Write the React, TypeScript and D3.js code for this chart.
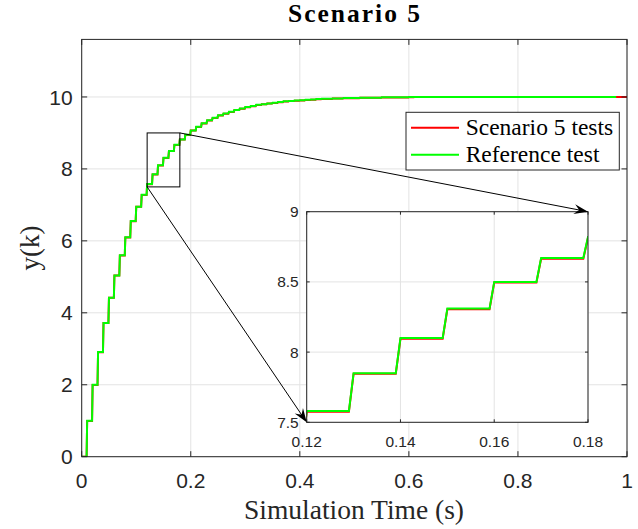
import * as d3 from "d3";

// step response, one level per 0.01 s sample
const samplePeriod = 0.01;
const rampTime = 0.001;

const referenceLevels = [
  0, 1.0, 2.0, 2.91, 3.72, 4.42, 5.04, 5.6, 6.1, 6.55, 6.95, 7.28, 7.58, 7.85,
  8.1, 8.31, 8.5, 8.67, 8.82, 8.95, 9.07, 9.17, 9.27, 9.35, 9.42, 9.49, 9.54,
  9.59, 9.64, 9.68, 9.72, 9.75, 9.78, 9.8, 9.82, 9.84, 9.86, 9.88, 9.89, 9.9,
  9.91, 9.92, 9.93, 9.94, 9.95, 9.95, 9.96, 9.96, 9.97, 9.97, 9.97, 9.98, 9.98,
  9.98, 9.98, 9.99, 9.99, 9.99, 9.99, 9.99, 10.0,
];
const referenceEnd = 0.98;

const scenarioLevels = [
  0, 0.995, 1.995, 2.905, 3.715, 4.415, 5.035, 5.595, 6.095, 6.545, 6.945,
  7.275, 7.575, 7.845, 8.095, 8.305, 8.495, 8.665, 8.815, 8.945, 9.065, 9.165,
  9.265, 9.345, 9.415, 9.485, 9.535, 9.585, 9.635, 9.675, 9.715, 9.745, 9.775,
  9.795, 9.815, 9.835, 9.855, 9.875, 9.885, 9.895, 9.905, 9.915, 9.925, 9.935,
  9.945, 9.945, 9.955, 9.955, 9.965, 9.965, 9.965, 9.975, 9.975, 9.975, 9.975,
  9.985, 9.985, 9.985, 9.985, 9.985, 9.995, 10.0,
];
const scenarioEnd = 1.0;

const mainXTicks = [0, 0.2, 0.4, 0.6, 0.8, 1];
const mainYTicks = [0, 2, 4, 6, 8, 10];
const insetXTicks = [0.12, 0.14, 0.16, 0.18];
const insetYTicks = [7.5, 8, 8.5, 9];

const seriesNames = ["Scenario 5 tests", "Reference test"];
const seriesColors = ["#ff0000", "#00ff00"];

type Pt = [number, number];

function toPoints(levels: number[], tEnd: number): Pt[] {
  const pts: Pt[] = [[0, levels[0]]];
  for (let k = 1; k < levels.length; k++) {
    const t = k * samplePeriod;
    pts.push([t - rampTime, levels[k - 1]]);
    pts.push([t, levels[k]]);
  }
  pts.push([tEnd, levels[levels.length - 1]]);
  return pts;
}

const axisColor = "#262626";
const gridColor = "#e3e3e3";
const sans = "'Liberation Sans', Arial, sans-serif";
const serif = "'Liberation Serif', 'Times New Roman', serif";

function Axes({ x, y, xTicks, yTicks, tickLen, fontSize, xLabelDy, yLabelDx, id, series }) {
  const [x0, x1] = x.range();
  const [y0, y1] = y.range();
  const line = d3
    .line<Pt>()
    .x((d) => x(d[0]))
    .y((d) => y(d[1]));
  return (
    <g>
      <rect x={x0} y={y1} width={x1 - x0} height={y0 - y1} fill="#fff" />
      <clipPath id={id}>
        <rect x={x0} y={y1} width={x1 - x0} height={y0 - y1} />
      </clipPath>
      {xTicks.map((t) => (
        <line key={"gx" + t} x1={x(t)} x2={x(t)} y1={y0} y2={y1} stroke={gridColor} />
      ))}
      {yTicks.map((t) => (
        <line key={"gy" + t} x1={x0} x2={x1} y1={y(t)} y2={y(t)} stroke={gridColor} />
      ))}
      <g clipPath={`url(#${id})`}>
        {series.map((s, i) => (
          <path key={i} d={line(s.points)} fill="none" stroke={s.color} strokeWidth={2} />
        ))}
      </g>
      {xTicks.map((t) => (
        <g key={"tx" + t}>
          <line x1={x(t)} x2={x(t)} y1={y0} y2={y0 - tickLen} stroke={axisColor} />
          <line x1={x(t)} x2={x(t)} y1={y1} y2={y1 + tickLen} stroke={axisColor} />
          <text x={x(t)} y={y0 + xLabelDy} textAnchor="middle" fontFamily={sans} fontSize={fontSize} fill={axisColor}>
            {t}
          </text>
        </g>
      ))}
      {yTicks.map((t) => (
        <g key={"ty" + t}>
          <line x1={x0} x2={x0 + tickLen} y1={y(t)} y2={y(t)} stroke={axisColor} />
          <line x1={x1} x2={x1 - tickLen} y1={y(t)} y2={y(t)} stroke={axisColor} />
          <text x={x0 - yLabelDx} y={y(t)} dy="0.36em" textAnchor="end" fontFamily={sans} fontSize={fontSize} fill={axisColor}>
            {t}
          </text>
        </g>
      ))}
      <rect x={x0} y={y1} width={x1 - x0} height={y0 - y1} fill="none" stroke={axisColor} strokeWidth={1} />
    </g>
  );
}

function Arrow({ from, to }) {
  const [ax, ay] = from;
  const [bx, by] = to;
  const ang = Math.atan2(by - ay, bx - ax);
  const L = 14;
  const W = 5;
  const ux = Math.cos(ang);
  const uy = Math.sin(ang);
  const head = [
    [bx, by],
    [bx - L * ux - W * uy, by - L * uy + W * ux],
    [bx - 9 * ux, by - 9 * uy],
    [bx - L * ux + W * uy, by - L * uy - W * ux],
  ];
  return (
    <g>
      <line x1={ax} y1={ay} x2={bx - 8 * ux} y2={by - 8 * uy} stroke="#000" strokeWidth={1} />
      <polygon points={head.map((p) => p.join(",")).join(" ")} fill="#000" />
    </g>
  );
}

export default function App() {
  const x = d3.scaleLinear().domain([0, 1]).range([81.7, 627]);
  const y = d3.scaleLinear().domain([0, 11.6]).range([456.7, 39.4]);
  const ix = d3.scaleLinear().domain([0.12, 0.18]).range([306.7, 588]);
  const iy = d3.scaleLinear().domain([7.5, 9]).range([422.3, 211.7]);

  const series = [
    { points: toPoints(scenarioLevels, scenarioEnd), color: seriesColors[0] },
    { points: toPoints(referenceLevels, referenceEnd), color: seriesColors[1] },
  ];

  const [zx0, zx1] = ix.domain();
  const [zy0, zy1] = iy.domain();

  const legX = 406;
  const legY = 112.3;

  return (
    <svg width={638} height={529} style={{ position: "absolute", left: 0, top: 0, background: "#fff" }}>
      <Axes x={x} y={y} xTicks={mainXTicks} yTicks={mainYTicks} tickLen={5.5} fontSize={21} xLabelDy={31.6} yLabelDx={9} id="clipMain" series={series} />
      <text x={355} y={21.8} textAnchor="middle" fontFamily={serif} fontWeight="bold" fontSize={25.5} letterSpacing={2} fill="#000">
        Scenario 5
      </text>
      <text x={354} y={519.3} textAnchor="middle" fontFamily={serif} fontSize={27.5} fill={axisColor}>
        Simulation Time (s)
      </text>
      <text transform={`translate(39,${(y.range()[0] + y.range()[1]) / 2}) rotate(-90)`} textAnchor="middle" fontFamily={serif} fontSize={27} fill={axisColor}>
        y(k)
      </text>
      {/* zoom box */}
      <rect x={x(zx0)} y={y(zy1)} width={x(zx1) - x(zx0)} height={y(zy0) - y(zy1)} fill="none" stroke="#000" strokeWidth={1} />
      {/* legend */}
      <g>
        <rect x={legX} y={legY} width={213.3} height={57.7} fill="#fff" stroke={axisColor} strokeWidth={1} />
        {seriesNames.map((n, i) => (
          <g key={n}>
            <line x1={legX + 5} x2={legX + 53} y1={legY + 15.4 + i * 27} y2={legY + 15.4 + i * 27} stroke={seriesColors[i]} strokeWidth={2} />
            <text x={legX + 59.7} y={legY + 15.4 + i * 27} dy="0.33em" fontFamily={serif} fontSize={23.5} fill="#000">
              {n}
            </text>
          </g>
        ))}
      </g>
      <Axes x={ix} y={iy} xTicks={insetXTicks} yTicks={insetYTicks} tickLen={3} fontSize={15.5} xLabelDy={24.4} yLabelDx={8} id="clipInset" series={series} />
      <Arrow from={[x(zx1), y(zy1)]} to={[ix(zx1), iy(zy1)]} />
      <Arrow from={[x(zx0), y(zy0)]} to={[ix(zx0), iy(zy0)]} />
    </svg>
  );
}
